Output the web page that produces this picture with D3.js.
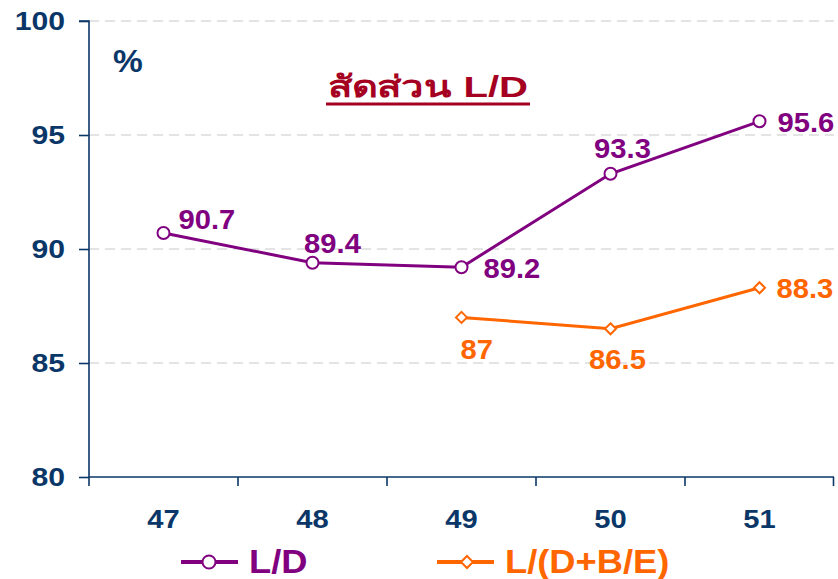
<!DOCTYPE html>
<html>
<head>
<meta charset="utf-8">
<script src="https://cdn.jsdelivr.net/npm/d3@7"></script>
<style>
  body { margin: 0; background: #fff; }
  text { font-family: "Liberation Sans", Arial, sans-serif; font-weight: bold; }
</style>
</head>
<body>
<div id="chart"></div>
<script>
const years = ["47", "48", "49", "50", "51"];
const ldValues = [90.7, 89.4, 89.2, 93.3, 95.6];
const ldbeYears = ["49", "50", "51"];
const ldbeValues = [87, 86.5, 88.3];
const yTicks = [80, 85, 90, 95, 100];

const width = 838, height = 579;
const margin = { left: 89, right: 4, top: 21, bottom: 102 };
const navy = "#0b3768", purple = "#800080", orange = "#ff6600";

// the source text is a bit wider than Arial, so widen glyphs a little
function stretch(sel, k) {
    sel.each(function() {
        const w = this.getComputedTextLength();
        d3.select(this).attr("textLength", w * k).attr("lengthAdjust", "spacingAndGlyphs");
    });
}

const svg = d3.select("#chart").append("svg")
    .attr("width", width)
    .attr("height", height);

const xScale = d3.scaleBand().domain(years).range([margin.left, width - margin.right]);
const yScale = d3.scaleLinear().domain([80, 100]).range([height - margin.bottom, margin.top]);
const cx = d => xScale(d) + xScale.bandwidth() / 2;

// grid lines
svg.selectAll(".grid")
    .data(yTicks.filter(d => d > 80))
    .enter().append("line")
    .attr("class", "grid")
    .attr("x1", margin.left)
    .attr("x2", width - margin.right)
    .attr("y1", d => yScale(d))
    .attr("y2", d => yScale(d))
    .attr("stroke", "#c8c8c8")
    .attr("stroke-width", 1)
    .attr("stroke-dasharray", "10,6");

// y axis
const yAxis = svg.append("g")
    .attr("transform", `translate(${margin.left},0)`)
    .call(d3.axisLeft(yScale).tickValues(yTicks).tickSize(10).tickPadding(14));
yAxis.selectAll("text").attr("font-size", "26px").attr("fill", navy)
    .style("font-family", "Liberation Sans, Arial, sans-serif").style("font-weight", "bold");
yAxis.selectAll("line, path").attr("stroke", navy).attr("stroke-width", 1.6);
yAxis.select(".domain").attr("d", `M-10,${yScale(100)}H0V${yScale(80)}`);
stretch(yAxis.selectAll("text"), 1.16);

// x axis
const xAxis = svg.append("g")
    .attr("transform", `translate(0,${yScale(80)})`)
    .call(d3.axisBottom(xScale).tickSize(0).tickPadding(33));
xAxis.selectAll("text").attr("font-size", "26px").attr("fill", navy)
    .style("font-family", "Liberation Sans, Arial, sans-serif").style("font-weight", "bold");
xAxis.selectAll("line, path").attr("stroke", navy).attr("stroke-width", 1.6);
xAxis.select(".domain").attr("d", `M${margin.left},0H${width - margin.right}`);
stretch(xAxis.selectAll("text"), 1.12);
xAxis.selectAll(".sep")
    .data(years.map(d => xScale(d)).concat([xScale.range()[1] - 0.5]))
    .enter().append("line")
    .attr("class", "sep")
    .attr("x1", d => d).attr("x2", d => d)
    .attr("y1", 0).attr("y2", 9)
    .attr("stroke", navy).attr("stroke-width", 1.6);

// % label and title
const pct = svg.append("text")
    .attr("x", 113).attr("y", 72)
    .attr("font-size", "31px").attr("fill", navy)
    .text("%");
stretch(pct, 1.08);

svg.append("text")
    .attr("x", 328).attr("y", 97)
    .attr("font-size", "30px").attr("fill", "#a50021")
    .attr("textLength", 200).attr("lengthAdjust", "spacingAndGlyphs")
    .text("สัดส่วน L/D");
svg.append("line")
    .attr("x1", 326).attr("x2", 530)
    .attr("y1", 104).attr("y2", 104)
    .attr("stroke", "#a50021").attr("stroke-width", 3);

// L/D line
const ldData = years.map((y, i) => ({ year: y, value: ldValues[i] }));
svg.append("path")
    .datum(ldData)
    .attr("fill", "none")
    .attr("stroke", purple)
    .attr("stroke-width", 3)
    .attr("d", d3.line().x(d => cx(d.year)).y(d => yScale(d.value)));

svg.selectAll(".ldPoint")
    .data(ldData)
    .enter().append("circle")
    .attr("class", "ldPoint")
    .attr("cx", d => cx(d.year))
    .attr("cy", d => yScale(d.value))
    .attr("r", 6)
    .attr("fill", "#fff")
    .attr("stroke", purple)
    .attr("stroke-width", 2);

const ldOffsets = [[15, -4, "start"], [20, -10, "middle"], [22, 11, "start"], [12, -16, "middle"], [18, 11, "start"]];
const ldLabels = svg.selectAll(".ldLabel")
    .data(ldData)
    .enter().append("text")
    .attr("class", "ldLabel")
    .attr("x", (d, i) => cx(d.year) + ldOffsets[i][0])
    .attr("y", (d, i) => yScale(d.value) + ldOffsets[i][1])
    .attr("text-anchor", (d, i) => ldOffsets[i][2])
    .attr("font-size", "27px")
    .attr("fill", purple)
    .text(d => d.value);
stretch(ldLabels, 1.08);

// L/(D+B/E) line
const beData = ldbeYears.map((y, i) => ({ year: y, value: ldbeValues[i] }));
svg.append("path")
    .datum(beData)
    .attr("fill", "none")
    .attr("stroke", orange)
    .attr("stroke-width", 3)
    .attr("d", d3.line().x(d => cx(d.year)).y(d => yScale(d.value)));

svg.selectAll(".bePoint")
    .data(beData)
    .enter().append("path")
    .attr("class", "bePoint")
    .attr("transform", d => `translate(${cx(d.year)},${yScale(d.value)})`)
    .attr("d", "M0,-5.5L5.5,0L0,5.5L-5.5,0Z")
    .attr("fill", "#fff")
    .attr("stroke", orange)
    .attr("stroke-width", 2);

const beOffsets = [[-1, 42, "start"], [7, 40, "middle"], [17, 10, "start"]];
const beLabels = svg.selectAll(".beLabel")
    .data(beData)
    .enter().append("text")
    .attr("class", "beLabel")
    .attr("x", (d, i) => cx(d.year) + beOffsets[i][0])
    .attr("y", (d, i) => yScale(d.value) + beOffsets[i][1])
    .attr("text-anchor", (d, i) => beOffsets[i][2])
    .attr("font-size", "27px")
    .attr("fill", orange)
    .text(d => d.value);
stretch(beLabels, 1.08);

// legend
const legend = [
    { label: "L/D", color: purple, x: 181, shape: "circle" },
    { label: "L/(D+B/E)", color: orange, x: 437, shape: "diamond" }
];
const lg = svg.selectAll(".legend")
    .data(legend)
    .enter().append("g")
    .attr("class", "legend")
    .attr("transform", d => `translate(${d.x},562)`);
lg.append("line")
    .attr("x1", 0).attr("x2", 57)
    .attr("stroke", d => d.color).attr("stroke-width", 4);
lg.filter(d => d.shape === "circle").append("circle")
    .attr("cx", 28).attr("r", 6.5)
    .attr("fill", "#fff").attr("stroke", d => d.color).attr("stroke-width", 2);
lg.filter(d => d.shape === "diamond").append("path")
    .attr("transform", "translate(30,0)")
    .attr("d", "M0,-6L6,0L0,6L-6,0Z")
    .attr("fill", "#fff").attr("stroke", d => d.color).attr("stroke-width", 2);
const lgText = lg.append("text")
    .attr("x", 68)
    .attr("y", 11)
    .attr("font-size", "33px")
    .attr("fill", d => d.color)
    .text(d => d.label);
stretch(lgText, 1.1);
</script>
</body>
</html>
